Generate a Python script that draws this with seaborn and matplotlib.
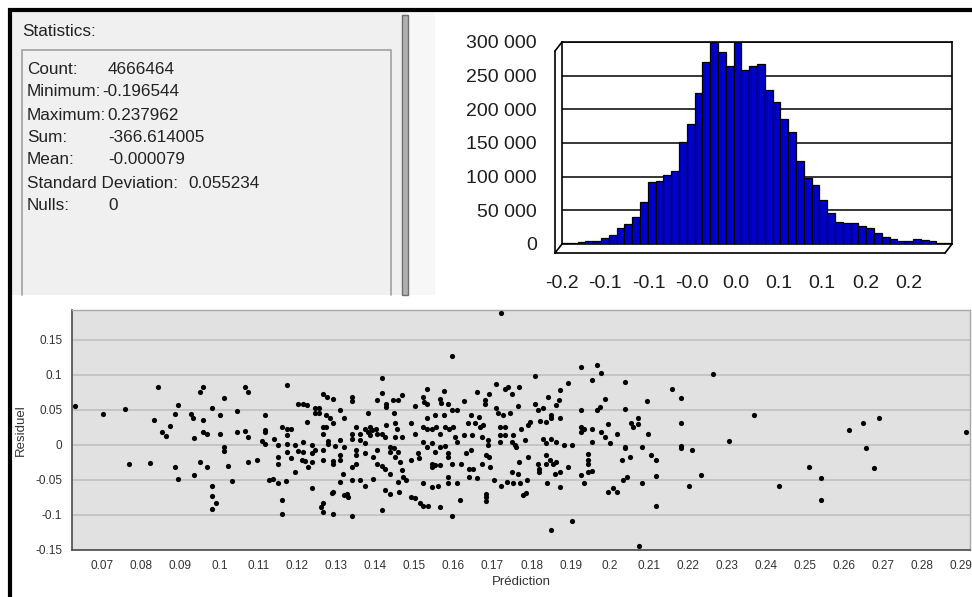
import matplotlib
matplotlib.use("Agg")
import numpy as np
import pandas as pd
import matplotlib.pyplot as plt
import seaborn as sns
from matplotlib.patches import Rectangle
from matplotlib.ticker import FuncFormatter

# %% data
stats_labels = ["Count:", "Minimum:", "Maximum:", "Sum:", "Mean:", "Standard Deviation:", "Nulls:"]
stats_values = ["4666464", "-0.196544", "0.237962", "-366.614005", "-0.000079", "0.055234", "0"]

hist_min = -0.196544
hist_max = 0.237962
hist_counts = [1000, 1500, 2500, 4000, 5000, 9000, 13000, 24000, 30000, 40000,
               63000, 92000, 94000, 102000, 108000, 151000, 178000, 224000, 270000, 300000,
               285000, 265000, 300000, 259000, 265000, 268000, 228000, 211000, 185000, 167000,
               123000, 98000, 87000, 66000, 46000, 32000, 31000, 31000, 26000, 24000,
               16000, 10000, 7000, 5000, 5000, 8000, 5500, 4000, 2000, 1500]
hist_xlabels = ["-0.2", "-0.1", "-0.1", "-0.0", "0.0", "0.1", "0.1", "0.2", "0.2"]
hist_yticks = [0, 50000, 100000, 150000, 200000, 250000, 300000]

pred = [
    0.0629, 0.0702, 0.0757, 0.0768, 0.0821, 0.0843, 0.0831, 0.0852, 0.0864, 0.0873,
    0.0885, 0.0894, 0.0885, 0.0895, 0.0928, 0.0933, 0.0935, 0.0935,
    0.0950, 0.0958, 0.0958, 0.0958, 0.0967, 0.0950, 0.0968, 0.0980, 0.0980, 0.0980,
    0.0991, 0.0980, 0.1001, 0.1001, 0.1011, 0.1011, 0.1011, 0.1023, 0.1033, 0.1045,
    0.1045, 0.1066, 0.1074, 0.1066, 0.1074, 0.1074, 0.1095, 0.1117, 0.1117, 0.1117,
    0.1109, 0.1117, 0.1127, 0.1138, 0.1139, 0.1151, 0.1151, 0.1151, 0.1151, 0.1160,
    0.1160, 0.1160, 0.1172, 0.1172, 0.1172, 0.1172, 0.1172, 0.1170, 0.1183, 0.1183,
    0.1194, 0.1194, 0.1202, 0.1202, 0.1215, 0.1224, 0.1224, 0.1215, 0.1215, 0.1211,
    0.1220, 0.1226, 0.1236, 0.1236, 0.1236, 0.1236, 0.1246, 0.1246, 0.1256, 0.1256,
    0.1246, 0.1266, 0.1266, 0.1266, 0.1266, 0.1266, 0.1260, 0.1266, 0.1266, 0.1276,
    0.1290, 0.1274, 0.1283, 0.1290, 0.1274, 0.1278, 0.1278, 0.1296, 0.1290, 0.1290,
    0.1292, 0.1288, 0.1290,
    0.1310, 0.1319, 0.1310, 0.1319, 0.1310, 0.1310, 0.1317, 0.1310, 0.1319, 0.1327,
    0.1330, 0.1340, 0.1340, 0.1340, 0.1340, 0.1340, 0.1340, 0.1340, 0.1351, 0.1351,
    0.1351, 0.1351, 0.1361, 0.1361, 0.1361,
    0.1373, 0.1373, 0.1373, 0.1373, 0.1381, 0.1381, 0.1386, 0.1386, 0.1392, 0.1394,
    0.1394, 0.1401, 0.1403, 0.1403, 0.1404, 0.1404, 0.1416, 0.1416, 0.1416, 0.1416,
    0.1416, 0.1424, 0.1424, 0.1427, 0.1427, 0.1426, 0.1424,
    0.1437, 0.1437, 0.1437, 0.1437, 0.1445, 0.1447, 0.1450, 0.1450, 0.1447, 0.1450,
    0.1456, 0.1458, 0.1458, 0.1458, 0.1461, 0.1462, 0.1468, 0.1468, 0.1468, 0.1471,
    0.1479, 0.1490, 0.1490, 0.1490, 0.1501, 0.1501, 0.1501,
    0.1509, 0.1512, 0.1514, 0.1522, 0.1524, 0.1522, 0.1522, 0.1522, 0.1522, 0.1531,
    0.1531, 0.1531, 0.1531, 0.1531, 0.1535, 0.1544, 0.1544, 0.1544, 0.1544, 0.1546,
    0.1552, 0.1552, 0.1552,
    0.1556, 0.1561, 0.1565, 0.1567, 0.1565, 0.1565, 0.1565, 0.1565, 0.1575, 0.1575,
    0.1578, 0.1578, 0.1586, 0.1586, 0.1586, 0.1586, 0.1586, 0.1589, 0.1595, 0.1595,
    0.1595, 0.1596, 0.1599, 0.1603, 0.1608, 0.1608, 0.1608,
    0.1616, 0.1620, 0.1626, 0.1626, 0.1633, 0.1637, 0.1640, 0.1640, 0.1646, 0.1646,
    0.1648, 0.1650, 0.1654, 0.1659, 0.1659, 0.1666, 0.1667, 0.1672, 0.1672, 0.1676,
    0.1680, 0.1680, 0.1683, 0.1683, 0.1683, 0.1683,
    0.1689, 0.1689, 0.1691, 0.1691, 0.1693, 0.1703, 0.1710, 0.1710, 0.1714, 0.1719,
    0.1719, 0.1719, 0.1723, 0.1723, 0.1727, 0.1731, 0.1731, 0.1731, 0.1736, 0.1740,
    0.1744, 0.1749, 0.1749, 0.1751, 0.1753, 0.1753, 0.1757, 0.1761, 0.1766, 0.1767,
    0.1767, 0.1766, 0.1770,
    0.1774, 0.1778, 0.1783, 0.1787, 0.1789, 0.1791, 0.1791, 0.1797, 0.1808, 0.1810,
    0.1817, 0.1817, 0.1819, 0.1819, 0.1821, 0.1830, 0.1830, 0.1838, 0.1838, 0.1838,
    0.1838, 0.1840, 0.1843, 0.1847, 0.1851, 0.1851, 0.1851, 0.1851, 0.1856,
    0.1860, 0.1864, 0.1864, 0.1864, 0.1871, 0.1873, 0.1873, 0.1874, 0.1874, 0.1883,
    0.1894, 0.1894, 0.1905, 0.1905, 0.1926, 0.1926, 0.1926, 0.1928, 0.1928, 0.1934,
    0.1934,
    0.1945, 0.1945, 0.1945, 0.1945, 0.1956, 0.1956, 0.1956, 0.1956, 0.1967, 0.1967,
    0.1975, 0.1977, 0.1977, 0.1988, 0.1988, 0.1996, 0.1996, 0.2001, 0.2009, 0.2018,
    0.2020,
    0.2031, 0.2035, 0.2039, 0.2039, 0.2039, 0.2039, 0.2044, 0.2052, 0.2056, 0.2061,
    0.2073, 0.2073, 0.2084, 0.2084, 0.2095, 0.2099, 0.2076,
    0.2105, 0.2118, 0.2118, 0.2118, 0.2161, 0.2182, 0.2182, 0.2182, 0.2182, 0.2212,
    0.2204, 0.2234, 0.2265, 0.2307, 0.2371, 0.2435, 0.2511, 0.2542, 0.2542, 0.2615,
    0.2649, 0.2657, 0.2678, 0.2690, 0.2913,
]
resid = [
    0.055, 0.0434, 0.0505, -0.0276, -0.0258, 0.0824, 0.0348, 0.0181, 0.0129, 0.0267,
    0.0434, 0.0567, -0.0314, -0.0481, 0.0434, 0.038, 0.010, -0.043,
    0.0757, 0.083, 0.036, 0.018, 0.016, -0.024, -0.032, 0.052, -0.058, -0.073,
    -0.083, -0.092, 0.042, 0.015, 0.067, -0.003, -0.009, -0.030, -0.052, 0.048,
    0.018, 0.082, 0.076, 0.020, 0.011, -0.024, -0.022, 0.042, 0.021, 0.018,
    0.005, 0.001, -0.050, -0.049, 0.009, 0.000, -0.054, -0.017, -0.028, -0.079,
    -0.099, 0.026, 0.085, 0.022, 0.014, 0.001, -0.010, -0.051, 0.022, -0.019,
    -0.039, 0.000, 0.059, -0.009, 0.059, 0.057, 0.032, 0.004, -0.010, -0.022,
    -0.023, -0.031, 0.000, -0.012, -0.024, -0.061, 0.053, 0.045, 0.053, 0.045,
    -0.008, 0.073, 0.026, 0.015, -0.022, -0.007, -0.089, -0.083, -0.096, 0.068,
    0.065, 0.042, 0.039, 0.031, 0.026, 0.006, 0.001, -0.002, -0.023, -0.027,
    -0.067, -0.069, -0.098,
    0.050, 0.039, 0.007, -0.003, -0.015, -0.022, -0.042, -0.053, -0.072, -0.070,
    -0.074, 0.068, 0.063, 0.016, 0.009, -0.031, -0.050, -0.102, 0.025, -0.008,
    -0.015, -0.027, 0.016, 0.007, -0.050,
    -0.058, 0.023, 0.002, -0.012, 0.045, 0.019, 0.014, 0.026, 0.021, -0.017,
    -0.048, 0.023, 0.015, -0.008, 0.064, -0.027, 0.096, 0.074, 0.016, -0.093,
    -0.030, -0.034, -0.065, 0.058, 0.054, 0.028, 0.011,
    -0.003, -0.010, -0.041, -0.070, 0.064, 0.045, 0.031, 0.011, -0.005, -0.017,
    0.022, 0.064, -0.010, -0.053, -0.067, -0.024, 0.071, 0.011, -0.036, -0.046,
    -0.050, 0.031, -0.021, -0.074, 0.055, 0.015, -0.076,
    -0.012, -0.019, -0.083, 0.068, 0.061, 0.026, 0.004, -0.054, -0.087, 0.079,
    0.058, 0.039, 0.023, -0.003, -0.087, 0.023, 0.002, -0.031, -0.060, -0.027,
    0.042, -0.010, -0.029,
    0.025, -0.058, 0.065, 0.060, 0.016, -0.003, -0.029, -0.088, 0.077, 0.042,
    0.025, -0.002, 0.059, -0.012, -0.017, -0.046, -0.054, 0.023, 0.127, 0.050,
    -0.027, -0.102, 0.026, 0.011, 0.050, 0.004, -0.055,
    -0.079, -0.027, 0.063, 0.014, -0.012, 0.031, -0.034, -0.046, 0.042, -0.008,
    0.014, -0.034, 0.031, 0.076, -0.047, 0.040, 0.026, 0.011, -0.027, 0.029,
    0.064, 0.058, -0.015, -0.070, -0.074, -0.080,
    0.007, 0.000, -0.017, 0.073, -0.031, -0.050, 0.087, 0.052, 0.045, 0.026,
    0.014, 0.004, 0.188, -0.058, 0.042, 0.079, 0.026, 0.014, -0.053, 0.082,
    0.045, 0.004, -0.039, 0.072, 0.014, -0.055, 0.000, -0.003, 0.055, -0.024,
    0.083, -0.041, -0.055,
    0.023, -0.072, 0.007, -0.069, -0.050, -0.017, 0.028, 0.033, 0.098, 0.058,
    0.050, -0.027, -0.034, -0.039, 0.034, 0.052, 0.009, 0.033, 0.002, -0.015,
    -0.027, -0.055, 0.068, -0.022, 0.042, 0.038, 0.008, -0.122, -0.027,
    -0.041, 0.057, -0.024, 0.004, 0.064, 0.039, -0.039, -0.060, 0.078, 0.000,
    0.088, -0.031, 0.000, -0.109, 0.111, 0.050, 0.026, 0.019, -0.043, 0.023,
    -0.055,
    -0.013, -0.021, -0.027, -0.039, 0.092, 0.023, 0.004, -0.037, 0.114, 0.050,
    0.054, 0.102, 0.019, 0.065, 0.011, -0.067, 0.030, 0.002, -0.062, -0.067,
    0.016,
    -0.022, -0.050, 0.090, 0.051, -0.003, -0.005, -0.046, -0.017, 0.031, 0.025,
    0.038, 0.030, -0.003, -0.055, 0.063, 0.016, -0.145,
    -0.014, -0.022, -0.045, -0.087, 0.079, 0.067, 0.031, -0.002, -0.004, -0.008,
    -0.058, -0.043, 0.101, 0.006, 0.043, -0.058, -0.031, -0.047, -0.079, 0.021,
    0.031, -0.004, -0.033, 0.039, 0.018,
]
scatter_xticks = ["0.07", "0.08", "0.09", "0.1", "0.11", "0.12", "0.13", "0.14", "0.15",
                  "0.16", "0.17", "0.18", "0.19", "0.2", "0.21", "0.22", "0.23", "0.24",
                  "0.25", "0.26", "0.27", "0.28", "0.29"]
scatter_yticks = ["-0.15", "-0.1", "-0.05", "0", "0.05", "0.1", "0.15"]

# %% figure
sns.set_style("white")
plt.rcParams["font.family"] = ["Liberation Sans", "DejaVu Sans"]

W, H = 972, 597
fig = plt.figure(figsize=(W / 100, H / 100), dpi=100)


def box(x0, y0, x1, y1):
    return [x0 / W, 1 - y1 / H, (x1 - x0) / W, (y1 - y0) / H]


# background panel (pixel coordinates)
bg = fig.add_axes([0, 0, 1, 1])
bg.set_xlim(0, W)
bg.set_ylim(H, 0)
bg.axis("off")
bg.add_patch(Rectangle((12, 12), 423, 283, fc="#f0f0f0", ec="none"))
bg.add_patch(Rectangle((408, 12), 27, 283, fc="#f7f7f7", ec="none"))
bg.add_patch(Rectangle((402, 15), 6, 280, fc="#b0b0b0", ec="#6e6e6e", lw=1))
bg.plot([22, 22, 391, 391], [295, 50, 50, 295], color="#a0a0a0", lw=1.2)
bg.plot([8, 972], [10, 10], color="black", lw=3, solid_capstyle="butt")
bg.plot([10, 10], [8, 597], color="black", lw=3, solid_capstyle="butt")

fs = 12.3
bg.text(22, 32, "Statistics:", fontsize=fs, color="#222222", va="center")
row_y = [69, 92, 115, 137, 160, 183, 206]
val_x = [108, 102, 107, 108, 108, 188, 108]
for lab, val, y, vx in zip(stats_labels, stats_values, row_y, val_x):
    bg.text(27, y, lab, fontsize=fs, color="#222222", va="center")
    bg.text(vx, y, val, fontsize=fs, color="#222222", va="center")

# %% histogram
ax_h = fig.add_axes(box(562, 42, 952, 244))
ax_h.patch.set_alpha(0)
width = (hist_max - hist_min) / len(hist_counts)
df_h = pd.DataFrame({"x": [hist_min + (i + 0.5) * width for i in range(len(hist_counts))],
                     "n": hist_counts})
sns.histplot(data=df_h, x="x", weights="n", bins=len(hist_counts),
             binrange=(hist_min, hist_max), ax=ax_h,
             color="#0000c8", edgecolor="black", linewidth=0.9, alpha=1, zorder=3)
ax_h.set_xlim(hist_min, hist_max)
ax_h.set_ylim(0, 300000)
ax_h.set_xlabel("")
ax_h.set_ylabel("")
ax_h.set_yticks(hist_yticks)
ax_h.yaxis.set_major_formatter(FuncFormatter(lambda v, p: f"{int(v):,}".replace(",", " ")))
ax_h.grid(axis="y", color="black", lw=1.1)
ax_h.set_axisbelow(True)

step = (hist_max - hist_min) / 9
ax_h.set_xticks([hist_min + k * step for k in range(9)])
ax_h.set_xticklabels(hist_xlabels)
ax_h.set_xticks([hist_min + k * step / 2 for k in range(19)], minor=True)
for side in ["top", "right"]:
    ax_h.spines[side].set_color("black")
    ax_h.spines[side].set_linewidth(1.2)
ax_h.spines["bottom"].set_position(("outward", 9))
ax_h.spines["left"].set_position(("outward", 7))
ax_h.spines["bottom"].set_visible(False)
ax_h.spines["left"].set_visible(False)
ax_h.tick_params(axis="y", length=0, pad=11, labelsize=14, labelcolor="#1e1e1e")
ax_h.tick_params(axis="x", which="both", length=7, width=1.2, color="black",
                 direction="out", labelsize=14, labelcolor="#1e1e1e", pad=6)

# 3D box edges
dx, dy = 7 / 390, 9 / 202
kw = dict(color="black", lw=1.2, transform=ax_h.transAxes, clip_on=False)
ax_h.plot([-dx, 1 - dx], [-dy, -dy], **kw)
ax_h.plot([-dx, -dx], [-dy, 1 - dy], **kw)
ax_h.plot([0, 1], [0, 0], **kw)
ax_h.plot([0, 0], [0, 1], **kw)
ax_h.plot([0, -dx], [0, -dy], **kw)
ax_h.plot([1, 1 - dx], [0, -dy], **kw)
ax_h.plot([0, -dx], [1, 1 - dy], **kw)

# %% scatter
ax_s = fig.add_axes(box(72, 310, 970, 550))
sns.scatterplot(x=pred, y=resid, ax=ax_s, color="black", s=14, linewidth=0, zorder=3)
ax_s.set_facecolor("#e1e1e1")
ax_s.set_xlim(0.0622, 0.2924)
ax_s.set_ylim(-0.15, 0.1924)
ax_s.set_xticks([float(v) for v in scatter_xticks])
ax_s.set_xticklabels(scatter_xticks)
ax_s.set_yticks([float(v) for v in scatter_yticks])
ax_s.set_yticklabels(scatter_yticks)
ax_s.grid(axis="y", color="#c2c2c2", lw=1.3)
ax_s.set_axisbelow(True)
for side in ["left", "bottom"]:
    ax_s.spines[side].set_color("#4a4a4a")
    ax_s.spines[side].set_linewidth(1.2)
for side in ["top", "right"]:
    ax_s.spines[side].set_color("#a8a8a8")
    ax_s.spines[side].set_linewidth(1)
ax_s.tick_params(axis="both", direction="out", length=4, width=1, color="#4a4a4a",
                 labelsize=8.5, labelcolor="#333333", pad=3)
ax_s.set_xlabel("Prédiction", fontsize=9.5, color="#333333", labelpad=3)
ax_s.set_ylabel("Residuel", fontsize=9.5, color="#333333", labelpad=6)

fig.savefig("out.png", dpi=100)
